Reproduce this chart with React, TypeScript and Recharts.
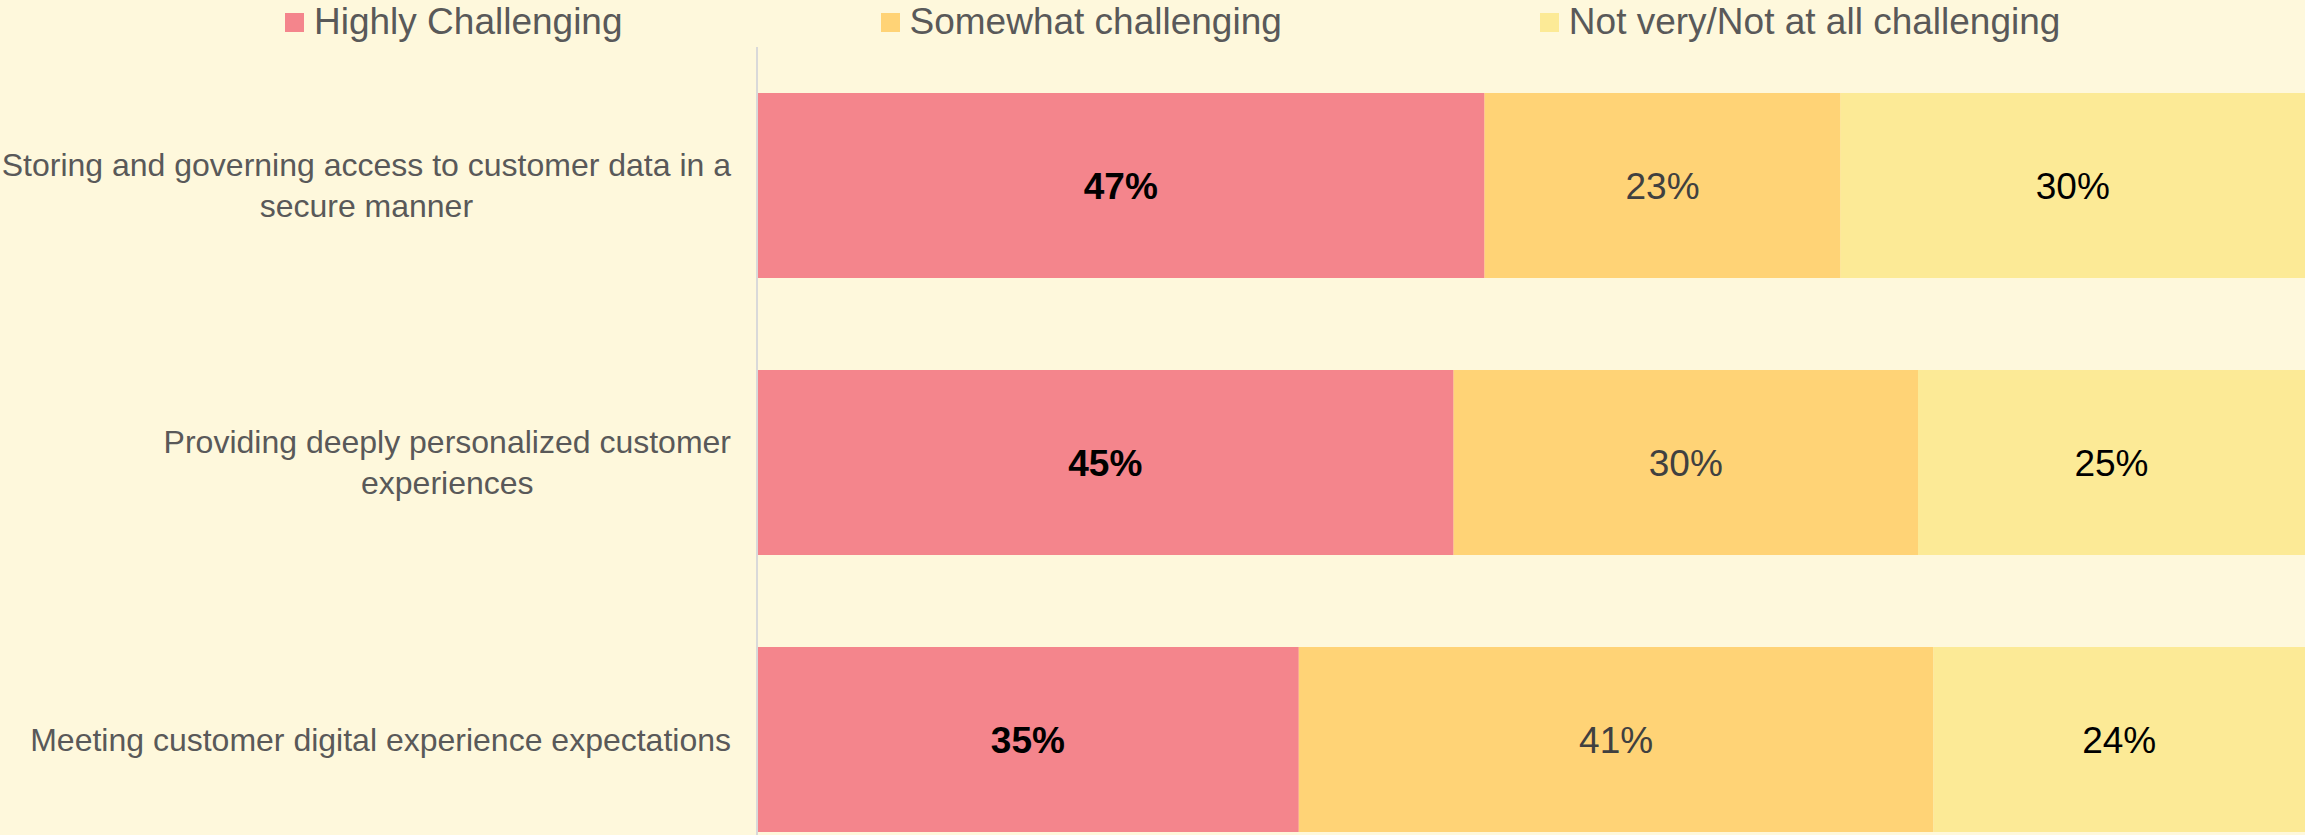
import { BarChart, Bar, XAxis, YAxis, Legend, LabelList } from "recharts";

const categories = [
	"Storing and governing access to customer data in a\nsecure manner",
	"Providing deeply personalized customer\nexperiences",
	"Meeting customer digital experience expectations",
];
const highlyChallenging = [47, 45, 35];
const somewhatChallenging = [23, 30, 41];
const notChallenging = [30, 25, 24];
const seriesNames = [
	"Highly Challenging",
	"Somewhat challenging",
	"Not very/Not at all challenging",
];

const BG = "#FEF8DC";
const RED = "#F4858C";
const ORANGE = "#FFD376";
const YELLOW = "#FCEA96";
const AXIS = "#D9D9D9";
const TEXT = "#595959";
const FONT = "'Liberation Sans', Arial, sans-serif";

const data = categories.map((name, i) => ({
	name,
	high: highlyChallenging[i],
	some: somewhatChallenging[i],
	not: notChallenging[i],
}));

const colors = [RED, ORANGE, YELLOW];

let ctx: CanvasRenderingContext2D | null = null;
const measure = (text: string, font: string) => {
	if (!ctx) ctx = document.createElement("canvas").getContext("2d");
	if (!ctx) return text.length * 16;
	ctx.font = font;
	return ctx.measureText(text).width;
};

// multi-line category label, lines centred on each other, block right-aligned
const CategoryTick = (props: any) => {
	const { x, y, payload } = props;
	const lines: string[] = String(payload.value).split("\n");
	const fontSize = 32;
	const lineHeight = 41;
	const blockW = Math.max(
		...lines.map((l) => measure(l, `${fontSize}px ${FONT}`))
	);
	const cx = x - blockW / 2;
	const startY = y - ((lines.length - 1) * lineHeight) / 2;
	return (
		<text
			x={cx}
			y={startY}
			fill={TEXT}
			fontSize={fontSize}
			fontFamily={FONT}
			textAnchor="middle"
		>
			{lines.map((l, i) => (
				<tspan key={i} x={cx} y={startY + i * lineHeight} dy="0.35em">
					{l}
				</tspan>
			))}
		</text>
	);
};

const ChartLegend = () => (
	<div
		style={{
			display: "flex",
			alignItems: "center",
			height: 44,
			paddingLeft: 285,
			paddingBottom: 3,
			gap: 258,
			fontFamily: FONT,
			fontSize: 37,
			color: TEXT,
		}}
	>
		{seriesNames.map((n, i) => (
			<div key={n} style={{ display: "flex", alignItems: "center" }}>
				<span
					style={{
						width: 19,
						height: 19,
						background: colors[i],
						marginRight: 10,
						display: "inline-block",
					}}
				/>
				<span style={{ whiteSpace: "nowrap" }}>{n}</span>
			</div>
		))}
	</div>
);

const App = () => {
	return (
		<div
			style={{
				position: "absolute",
				left: 0,
				top: 0,
				width: 2305,
				height: 835,
				overflow: "hidden",
				background: BG,
			}}
		>
			<BarChart
				width={2305}
				height={878}
				data={data}
				layout="vertical"
				margin={{ top: 0, right: 0, bottom: 0, left: 0 }}
				barCategoryGap="16.6%"
			>
				<Legend
					verticalAlign="top"
					align="left"
					content={() => <ChartLegend />}
					wrapperStyle={{ top: 0, left: 0, width: 2305, height: 47 }}
				/>
				<XAxis type="number" domain={[0, 100]} hide />
				{/* band boundary ticks + axis line, sits next to the plot */}
				<YAxis
					yAxisId="bands"
					type="number"
					domain={[0, 3]}
					ticks={[0, 1, 2, 3]}
					width={10}
					tick={false}
					tickSize={10}
					axisLine={{ stroke: AXIS, strokeWidth: 2 }}
					tickLine={{ stroke: AXIS, strokeWidth: 2 }}
				/>
				<YAxis
					yAxisId="cat"
					type="category"
					dataKey="name"
					width={747}
					axisLine={false}
					tickLine={false}
					tickSize={0}
					tickMargin={16}
					interval={0}
					tick={<CategoryTick />}
				/>
				<Bar
					yAxisId="cat"
					dataKey="high"
					stackId="a"
					fill={RED}
					isAnimationActive={false}
				>
					<LabelList
						dataKey="high"
						position="center"
						formatter={(v: any) => `${v}%`}
						fill="#000"
						fontSize={37}
						fontWeight="bold"
						fontFamily={FONT}
					/>
				</Bar>
				<Bar
					yAxisId="cat"
					dataKey="some"
					stackId="a"
					fill={ORANGE}
					isAnimationActive={false}
				>
					<LabelList
						dataKey="some"
						position="center"
						formatter={(v: any) => `${v}%`}
						fill="#404040"
						fontSize={37}
						fontFamily={FONT}
					/>
				</Bar>
				<Bar
					yAxisId="cat"
					dataKey="not"
					stackId="a"
					fill={YELLOW}
					isAnimationActive={false}
				>
					<LabelList
						dataKey="not"
						position="center"
						formatter={(v: any) => `${v}%`}
						fill="#000"
						fontSize={37}
						fontFamily={FONT}
					/>
				</Bar>
			</BarChart>
		</div>
	);
};

export default App;
